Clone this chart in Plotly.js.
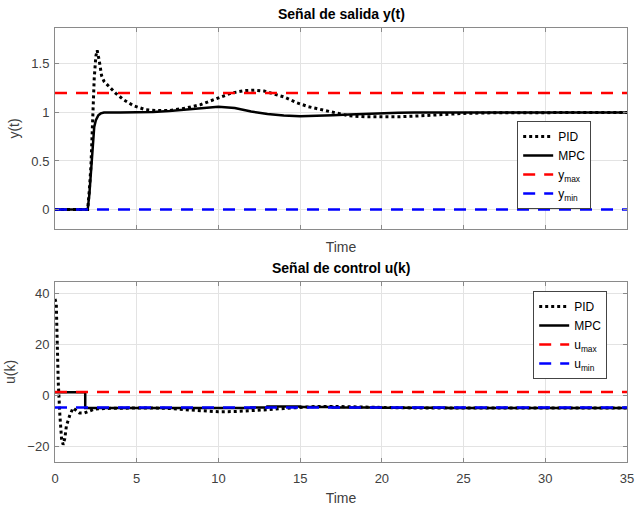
<!DOCTYPE html>
<html>
<head>
<meta charset="utf-8">
<script src="https://cdn.plot.ly/plotly-3.0.1.min.js"></script>
<style>html,body{margin:0;padding:0;background:#fff;}#chart{width:636px;height:506px;}</style>
</head>
<body>
<div id="chart"></div>
<script>
// ---- Data ----
const tPidY = [0,2.0,2.1,2.2,2.3,2.4,2.5,2.58,2.7,2.85,3.0,3.3,3.7,4.2,4.8,5.5,6.2,7.0,8.0,8.9,9.8,10.8,11.6,12.2,12.8,13.4,14.0,14.8,15.5,16.0,17.0,18.0,19.0,20.0,21.0,22.0,23.0,24.0,25.0,27,30,35];
const pidY  = [0,0,0.2,0.45,0.9,1.35,1.58,1.64,1.54,1.38,1.32,1.27,1.2,1.13,1.07,1.03,1.02,1.02,1.045,1.08,1.14,1.2,1.225,1.23,1.22,1.19,1.16,1.1,1.06,1.04,1.0,0.965,0.955,0.952,0.955,0.962,0.972,0.983,0.99,0.997,1.0,1.0];

const tMpcY = [0,2.0,2.1,2.2,2.3,2.4,2.5,2.65,2.8,3.0,4,5,6,7,8,9,10,11,12,13,14,15,16,17,18,19,20,21,22,25,35];
const mpcY  = [0,0,0.15,0.4,0.65,0.85,0.92,0.97,0.99,1.0,1.0,1.0,1.005,1.015,1.03,1.048,1.06,1.045,1.01,0.985,0.968,0.96,0.962,0.97,0.978,0.986,0.993,0.998,1.0,1.0,1.0];

const tPidU = [0,0.08,0.12,0.2,0.3,0.4,0.5,0.6,0.7,0.9,1.1,1.3,1.5,1.8,2.1,2.4,3,4,5,6,7,8,9,10,11,12,13,14,15,16,17,18,20,22,24,26,30,35];
const pidU  = [38,36,25,5,-8,-17,-19.5,-17,-12,-8,-5,-6,-7,-7,-6.2,-5.5,-5.2,-5,-5,-5,-5.2,-5.7,-6.2,-6.5,-6.4,-6.1,-5.7,-5.2,-4.7,-4.4,-4.4,-4.6,-4.8,-5,-5,-5,-5,-5];

const tMpcU = [0,1.85,5,10,12,13,15,17,20,24,35];
const mpcU  = [1.2,-5,-5,-5,-4.8,-4.4,-4.6,-4.8,-4.9,-5,-5];

const tLim = [0,35];
const yMax = 1.2, yMin = 0;
const uMax = 1.3, uMin = -4.8;

const xTicks = [0,5,10,15,20,25,30,35];
const yTicks = [0,0.5,1,1.5];
const uTicks = [-20,0,20,40];

// ---- Styles ----
const FONT = 'Liberation Sans, Arial, Helvetica, sans-serif';
const dotted = {color:'#000', width:3, dash:'3px,3px'};
const solid  = {color:'#000', width:2.5};
const redD   = {color:'#ff0000', width:2.5, dash:'12px,9px'};
const blueD  = {color:'#0000ff', width:2.5, dash:'12px,9px'};

const traces = [
  {x:tPidY, y:pidY, mode:'lines', name:'PID', line:dotted, xaxis:'x', yaxis:'y', legend:'legend'},
  {x:tMpcY, y:mpcY, mode:'lines', name:'MPC', line:solid, xaxis:'x', yaxis:'y', legend:'legend'},
  {x:tLim, y:[yMax,yMax], mode:'lines', name:'y<sub>max</sub>', line:redD, xaxis:'x', yaxis:'y', legend:'legend'},
  {x:tLim, y:[yMin,yMin], mode:'lines', name:'y<sub>min</sub>', line:blueD, xaxis:'x', yaxis:'y', legend:'legend'},
  {x:tPidU, y:pidU, mode:'lines', name:'PID', line:dotted, xaxis:'x2', yaxis:'y2', legend:'legend2'},
  {x:tMpcU, y:mpcU, mode:'lines', name:'MPC', line:Object.assign({shape:'hv'}, solid), xaxis:'x2', yaxis:'y2', legend:'legend2'},
  {x:tLim, y:[uMax,uMax], mode:'lines', name:'u<sub>max</sub>', line:redD, xaxis:'x2', yaxis:'y2', legend:'legend2'},
  {x:tLim, y:[uMin,uMin], mode:'lines', name:'u<sub>min</sub>', line:blueD, xaxis:'x2', yaxis:'y2', legend:'legend2'}
];

const axCommon = {
  showline:true, mirror:'ticks', linecolor:'#8a8a8a', linewidth:1,
  showgrid:true, gridcolor:'#e3e3e3', gridwidth:1, zeroline:false,
  ticks:'inside', ticklen:4, tickcolor:'#8a8a8a',
  tickfont:{family:FONT, size:13, color:'#404040'}
};

const legendCommon = {xanchor:'left', yanchor:'top', bgcolor:'#fff', bordercolor:'#444', borderwidth:1,
  font:{family:FONT, size:12, color:'#000'}, tracegroupgap:0, itemwidth:30};

const layout = {
  width:636, height:506,
  margin:{l:55, r:9, t:28, b:44},
  paper_bgcolor:'#fff', plot_bgcolor:'#fff',
  font:{family:FONT, size:13, color:'#262626'},
  showlegend:true,
  xaxis: Object.assign({}, axCommon, {domain:[0,1], range:[0,35], tickvals:xTicks, showticklabels:false,
    anchor:'y', title:{text:'Time', font:{family:FONT, size:14, color:'#404040'}, standoff:13}}),
  yaxis: Object.assign({}, axCommon, {domain:[0.537,1], range:[-0.2,1.87], tickvals:yTicks, ticktext:['0','0.5','1','1.5'],
    anchor:'x', ticklabelstandoff:2, title:{text:'y(t)', font:{family:FONT, size:14, color:'#404040'}, standoff:8}}),
  xaxis2: Object.assign({}, axCommon, {domain:[0,1], range:[0,35], tickvals:xTicks, anchor:'y2', ticklabelstandoff:4,
    title:{text:'Time', font:{family:FONT, size:14, color:'#404040'}, standoff:8}}),
  yaxis2: Object.assign({}, axCommon, {domain:[0,0.415], range:[-26.3,44.7], tickvals:uTicks, anchor:'x2', ticklabelstandoff:2,
    title:{text:'u(k)', font:{family:FONT, size:14, color:'#404040'}, standoff:8}}),
  legend: Object.assign({x:0.808, y:0.786}, legendCommon),
  legend2: Object.assign({x:0.836, y:0.394}, legendCommon),
  annotations:[
    {text:'<b>Señal de salida y(t)</b>', xref:'paper', yref:'paper', x:0.5, y:1, yshift:4, xanchor:'center', yanchor:'bottom', showarrow:false,
      font:{family:FONT, size:14, color:'#000'}},
    {text:'<b>Señal de control u(k)</b>', xref:'paper', yref:'paper', x:0.5, y:0.415, yshift:4, xanchor:'center', yanchor:'bottom', showarrow:false,
      font:{family:FONT, size:14, color:'#000'}}
  ]
};

Plotly.newPlot('chart', traces, layout, {staticPlot:true, displayModeBar:false});
</script>
</body>
</html>
